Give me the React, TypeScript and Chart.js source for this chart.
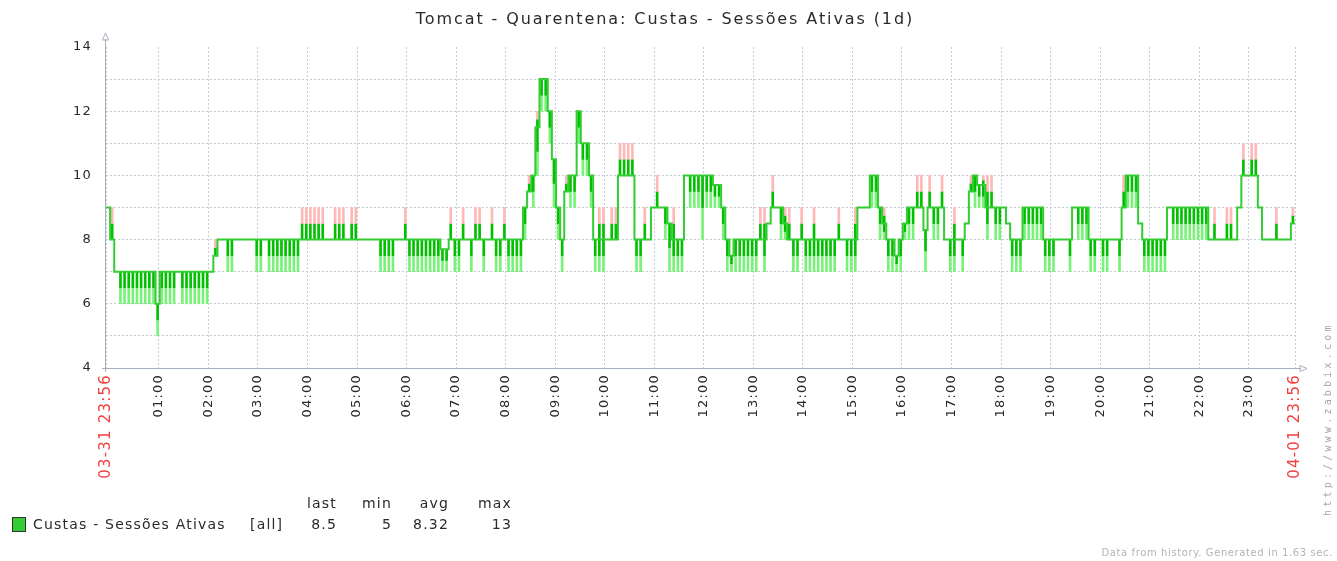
import React, { useEffect, useRef } from 'react';
import { Chart, registerables } from 'chart.js';

Chart.register(...registerables);

// ---------- text ----------
const TITLE = 'Tomcat - Quarentena: Custas - Sessões Ativas (1d)';
const SERIES_NAME = 'Custas - Sessões Ativas';
const SERIES_FUNC = '[all]';
const START_LABEL = '03-31 23:56';
const END_LABEL = '04-01 23:56';
const hourLabels = [
  '01:00', '02:00', '03:00', '04:00', '05:00', '06:00', '07:00', '08:00',
  '09:00', '10:00', '11:00', '12:00', '13:00', '14:00', '15:00', '16:00',
  '17:00', '18:00', '19:00', '20:00', '21:00', '22:00', '23:00',
];
const yTickLabels = [4, 6, 8, 10, 12, 14];
const legendHeaders = ['last', 'min', 'avg', 'max'];
const legendValues = ['8.5', '5', '8.32', '13'];
const FOOTER = 'Data from history. Generated in 1.63 sec.';
const URL_TEXT = 'http://www.zabbix.com';

// ---------- data: 5-minute bins starting 03-31 23:56 (one row = one hour) ----------
const BIN_MINUTES = 5;
const START_OFFSET_MIN = 4; // 23:56 is 4 minutes before 00:00
const n = null;

// main (avg) step line
const lineV = [
  9, 8, 7, 7, 7, 7, 7, 7, 7, 7, 7, 7,
  6, 7, 7, 7, 7, 7, 7, 7, 7, 7, 7, 7,
  7, 7, 7.5, 8, 8, 8, 8, 8, 8, 8, 8, 8,
  8, 8, 8, 8, 8, 8, 8, 8, 8, 8, 8, 8,
  8, 8, 8, 8, 8, 8, 8, 8, 8, 8, 8, 8,
  8, 8, 8, 8, 8, 8, 8, 8, 8, 8, 8, 8,
  8, 8, 8, 8, 8, 8, 8, 8, 8, 7.7, 7.7, 8,
  8, 8, 8, 8, 8, 8, 8, 8, 8, 8, 8, 8,
  8, 8, 8, 8, 8, 9, 9.5, 10, 11.5, 13, 13, 12,
  10.5, 9, 8, 9.5, 10, 10, 12, 11, 11, 10, 8, 8,
  8, 8, 8, 8, 10, 10, 10, 10, 8, 8, 8, 8,
  9, 9, 9, 9, 8.5, 8, 8, 8, 10, 10, 10, 10,
  10, 10, 10, 9.7, 9.7, 9, 8, 7.5, 8, 8, 8, 8,
  8, 8, 8, 8, 8.5, 9, 9, 9, 8.5, 8, 8, 8,
  8, 8, 8, 8, 8, 8, 8, 8, 8, 8, 8, 8,
  8, 8, 9, 9, 9, 10, 10, 9, 8.5, 8, 8, 7.5,
  8, 8.5, 9, 9, 9, 9, 8.3, 9, 9, 9, 9, 8,
  8, 8, 8, 8, 8.5, 9.5, 10, 9.7, 9.7, 9, 9, 9,
  9, 9, 8.5, 8, 8, 8, 9, 9, 9, 9, 9, 8,
  8, 8, 8, 8, 8, 8, 9, 9, 9, 9, 8, 8,
  8, 8, 8, 8, 8, 8, 9, 10, 10, 10, 8.5, 8,
  8, 8, 8, 8, 8, 9, 9, 9, 9, 9, 9, 9,
  9, 9, 9, 8, 8, 8, 8, 8, 8, 8, 9, 10,
  10, 10, 10, 9, 8, 8, 8, 8, 8, 8, 8, 8.5,
];

// max per bin (null = no excursion above the line)
const maxV = [
  n, 9, n, n, n, n, n, n, n, n, n, n,
  n, n, n, n, n, n, n, n, n, n, n, n,
  n, n, 8, n, n, n, n, n, n, n, n, n,
  n, n, n, n, n, n, n, n, n, n, n, 9,
  9, 9, 9, 9, 9, n, n, 9, 9, 9, n, 9,
  9, n, n, n, n, n, n, n, n, n, n, n,
  9, n, n, n, n, n, n, n, n, n, n, 9,
  n, n, 9, n, n, 9, 9, n, n, 9, n, n,
  9, n, n, n, n, n, 10, n, 12, n, n, n,
  n, n, n, 10, n, n, n, n, n, n, n, 9,
  9, n, 9, 9, 11, 11, 11, 11, n, n, 9, n,
  n, 10, n, n, n, 9, n, n, n, n, n, n,
  n, n, n, n, n, n, n, n, n, n, n, n,
  n, n, 9, 9, n, 10, n, n, 9, 9, n, n,
  9, n, n, 9, n, n, n, n, n, 9, n, n,
  n, 9, n, n, n, n, n, n, 9, n, n, n,
  n, n, n, n, 10, 10, n, 10, n, n, 10, n,
  n, 9, n, n, n, 10, n, n, 10, 10, 10, n,
  n, n, n, n, n, n, n, n, n, n, n, n,
  n, n, n, n, n, n, n, n, n, n, n, n,
  n, n, n, n, n, n, 10, n, n, n, n, n,
  n, n, n, n, n, n, n, n, n, n, n, n,
  n, n, n, n, 9, n, n, 9, 9, n, n, 11,
  n, 11, 11, n, n, n, n, 9, n, n, n, 9,
];

// min per bin (null = no excursion below the line)
const minV = [
  n, n, n, 6, 6, 6, 6, 6, 6, 6, 6, 6,
  5, 6, 6, 6, 6, n, 6, 6, 6, 6, 6, 6,
  6, n, n, n, n, 7, 7, n, n, n, n, n,
  7, 7, n, 7, 7, 7, 7, 7, 7, 7, 7, n,
  n, n, n, n, n, n, n, n, n, n, n, n,
  n, n, n, n, n, n, 7, 7, 7, 7, n, n,
  n, 7, 7, 7, 7, 7, 7, 7, 7, 7, 7, n,
  7, 7, n, n, 7, n, n, 7, n, n, 7, 7,
  n, 7, 7, 7, 7, 8, n, 9, 10, 12, 12, 11,
  9, 8, 7, n, 9, 9, 11, 10, 10, 9, 7, 7,
  7, n, n, n, n, n, n, n, 7, 7, n, n,
  n, n, n, 8, 7, 7, 7, 7, n, 9, 9, 9,
  8, 9, 9, 9, 9, 8, 7, 7, 7, 7, 7, 7,
  7, 7, n, 7, n, n, n, 8, 8, n, 7, 7,
  n, 7, 7, 7, 7, 7, 7, 7, 7, n, n, 7,
  7, 7, n, n, n, 9, 9, 8, 8, 7, 7, 7,
  7, 8, 8, 8, n, n, 7, n, 8, 8, n, n,
  7, 7, n, 7, n, n, 9, 9, 9, 8, n, 8,
  8, n, n, 7, 7, 7, 8, 8, 8, 8, 8, 7,
  7, 7, n, n, n, 7, n, 8, 8, 8, 7, 7,
  n, 7, 7, n, n, 7, n, 9, 9, 9, n, 7,
  7, 7, 7, 7, 7, n, 8, 8, 8, 8, 8, 8,
  8, 8, 8, n, n, n, n, n, n, n, n, n,
  n, n, n, n, n, n, n, n, n, n, n, n,
];

// ---------- styles ----------
const W = 1337;
const H = 561;
const PLOT_LEFT = 106;
const PLOT_RIGHT = 1295;
const PLOT_TOP = 47;
const PLOT_BOTTOM = 368;
const TOTAL_MIN = 1440;

const C_LINE = '#33cc33';
const C_DARK = '#00c000';
const C_LIGHT = '#7af27a';
const C_PINK = '#ffb8b8';
const C_GRID = '#c4ccd4';
const C_AXIS = '#a4b0bc';
const C_TEXT = '#2a2a2a';
const C_RED = '#f04040';
const FONT = '"DejaVu Sans", sans-serif';

function buildBars() {
  const pink: any[] = [];
  const dark: any[] = [];
  const light: any[] = [];
  for (let i = 0; i < lineV.length; i++) {
    const l = lineV[i];
    const hi = maxV[i];
    const lo = minV[i];
    const x = i * BIN_MINUTES + BIN_MINUTES / 2;
    if (hi != null) pink.push({ x, y: [(l + hi) / 2, hi] });
    if (hi != null || lo != null) {
      dark.push({ x, y: [lo != null ? (l + lo) / 2 : l, hi != null ? (l + hi) / 2 : l] });
    }
    if (lo != null) light.push({ x, y: [lo, (l + lo) / 2] });
  }
  return { pink, dark, light };
}

const tickMinutes = [0, ...hourLabels.map((_, k) => (k + 1) * 60 + START_OFFSET_MIN), TOTAL_MIN];
const tickTexts = [START_LABEL, ...hourLabels, END_LABEL];

const decorPlugin = {
  id: 'decor',
  beforeDraw(chart: any) {
    chart.ctx.letterSpacing = '1.2px';
  },
  afterDraw(chart: any) {
    const ctx = chart.ctx;
    const a = chart.chartArea;
    ctx.save();
    // axes
    ctx.strokeStyle = C_AXIS;
    ctx.lineWidth = 1;
    ctx.beginPath();
    ctx.moveTo(a.left - 0.5, a.bottom + 4);
    ctx.lineTo(a.left - 0.5, a.top - 8);
    ctx.moveTo(a.left - 4, a.bottom + 0.5);
    ctx.lineTo(a.right + 6, a.bottom + 0.5);
    ctx.stroke();
    // arrows
    ctx.beginPath();
    ctx.moveTo(a.left - 0.5, a.top - 14);
    ctx.lineTo(a.left - 3.5, a.top - 7);
    ctx.lineTo(a.left + 2.5, a.top - 7);
    ctx.closePath();
    ctx.moveTo(a.right + 12, a.bottom + 0.5);
    ctx.lineTo(a.right + 5, a.bottom - 2.5);
    ctx.lineTo(a.right + 5, a.bottom + 3.5);
    ctx.closePath();
    ctx.stroke();

    // title
    ctx.letterSpacing = '1.9px';
    ctx.fillStyle = C_TEXT;
    ctx.font = `16px ${FONT}`;
    ctx.textAlign = 'center';
    ctx.textBaseline = 'middle';
    ctx.fillText(TITLE, 665, 20);

    // legend
    ctx.font = `14px ${FONT}`;
    ctx.letterSpacing = '1.2px';
    ctx.textAlign = 'right';
    const colRight = [337, 392, 449, 512];
    legendHeaders.forEach((t, i) => ctx.fillText(t, colRight[i], 504));
    legendValues.forEach((t, i) => ctx.fillText(t, colRight[i], 525));
    ctx.textAlign = 'left';
    ctx.fillText(SERIES_NAME, 33, 525);
    ctx.fillText(SERIES_FUNC, 250, 525);
    ctx.fillStyle = C_LINE;
    ctx.fillRect(12.5, 517.5, 13, 14);
    ctx.strokeStyle = '#333';
    ctx.strokeRect(12.5, 517.5, 13, 14);

    // footer
    ctx.fillStyle = '#b4b4b4';
    ctx.font = `10px ${FONT}`;
    ctx.letterSpacing = '0.6px';
    ctx.textAlign = 'right';
    ctx.fillText(FOOTER, 1333, 553);

    // vertical url
    ctx.translate(1328, 516);
    ctx.rotate(-Math.PI / 2);
    ctx.font = `10px "DejaVu Sans Mono", monospace`;
    ctx.letterSpacing = '3.2px';
    ctx.textAlign = 'left';
    ctx.fillStyle = '#a8a8a8';
    ctx.fillText(URL_TEXT, 0, 0);
    ctx.restore();
    ctx.letterSpacing = '0px';
  },
};

export default function App() {
  const ref = useRef<HTMLCanvasElement>(null);
  useEffect(() => {
    const canvas = ref.current;
    if (!canvas) return;
    const { pink, dark, light } = buildBars();
    const linePts = lineV.map((v, i) => ({ x: i * BIN_MINUTES, y: v }));
    linePts.push({ x: TOTAL_MIN, y: lineV[lineV.length - 1] });
    const barCommon = {
      type: 'bar' as const,
      grouped: false,
      barThickness: 2,
      borderWidth: 0,
    };
    const chart = new Chart(canvas, {
      type: 'bar',
      data: {
        datasets: [
          { ...barCommon, label: 'max', data: pink, backgroundColor: C_PINK, order: 1 },
          { ...barCommon, label: 'fill', data: dark, backgroundColor: C_DARK, order: 2 },
          { ...barCommon, label: 'min', data: light, backgroundColor: C_LIGHT, order: 3 },
          {
            type: 'line',
            label: SERIES_NAME,
            data: linePts,
            borderColor: C_LINE,
            borderWidth: 2,
            pointRadius: 0,
            stepped: true,
            fill: false,
            order: 0,
          } as any,
        ],
      },
      options: {
        animation: false,
        responsive: false,
        devicePixelRatio: 1,
        layout: { padding: { top: PLOT_TOP, right: W - PLOT_RIGHT, left: 0, bottom: 0 } },
        plugins: { legend: { display: false }, title: { display: false }, tooltip: { enabled: false } },
        scales: {
          x: {
            type: 'linear',
            min: 0,
            max: TOTAL_MIN,
            offset: false,
            grid: {
              offset: false,
              drawTicks: false,
              color: C_GRID,
              lineWidth: 1,
            },
            border: { display: false, dash: [2, 2] },
            afterBuildTicks: (s: any) => {
              s.ticks = tickMinutes.map((v) => ({ value: v }));
            },
            afterFit: (s: any) => {
              s.height = H - PLOT_BOTTOM;
            },
            ticks: {
              autoSkip: false,
              minRotation: 90,
              maxRotation: 90,
              padding: 6,
              font: (c: any) => ({ family: FONT, size: c.index === 0 || c.index === tickMinutes.length - 1 ? 15 : 13 }),
              color: (c: any) => (c.index === 0 || c.index === tickMinutes.length - 1 ? C_RED : C_TEXT),
              callback: (_v: any, i: number) => tickTexts[i],
            },
          },
          y: {
            min: 4,
            max: 14,
            grid: {
              drawTicks: false,
              color: (c: any) => (c.tick && (c.tick.value === 14 || c.tick.value === 4) ? 'rgba(0,0,0,0)' : C_GRID),
              lineWidth: 1,
            },
            border: { display: false, dash: [2, 2] },
            afterFit: (s: any) => {
              s.width = PLOT_LEFT;
            },
            ticks: {
              stepSize: 1,
              padding: 14,
              color: C_TEXT,
              font: { family: FONT, size: 13 },
              callback: (v: any) => (yTickLabels.includes(v) ? String(v) : ''),
            },
          },
        },
      } as any,
      plugins: [decorPlugin],
    });
    return () => chart.destroy();
  }, []);
  return (
    <div style={{ position: 'fixed', left: 0, top: 0, width: W, height: H, background: '#fff' }}>
      <canvas ref={ref} width={W} height={H} style={{ width: W, height: H, display: 'block' }} />
    </div>
  );
}
